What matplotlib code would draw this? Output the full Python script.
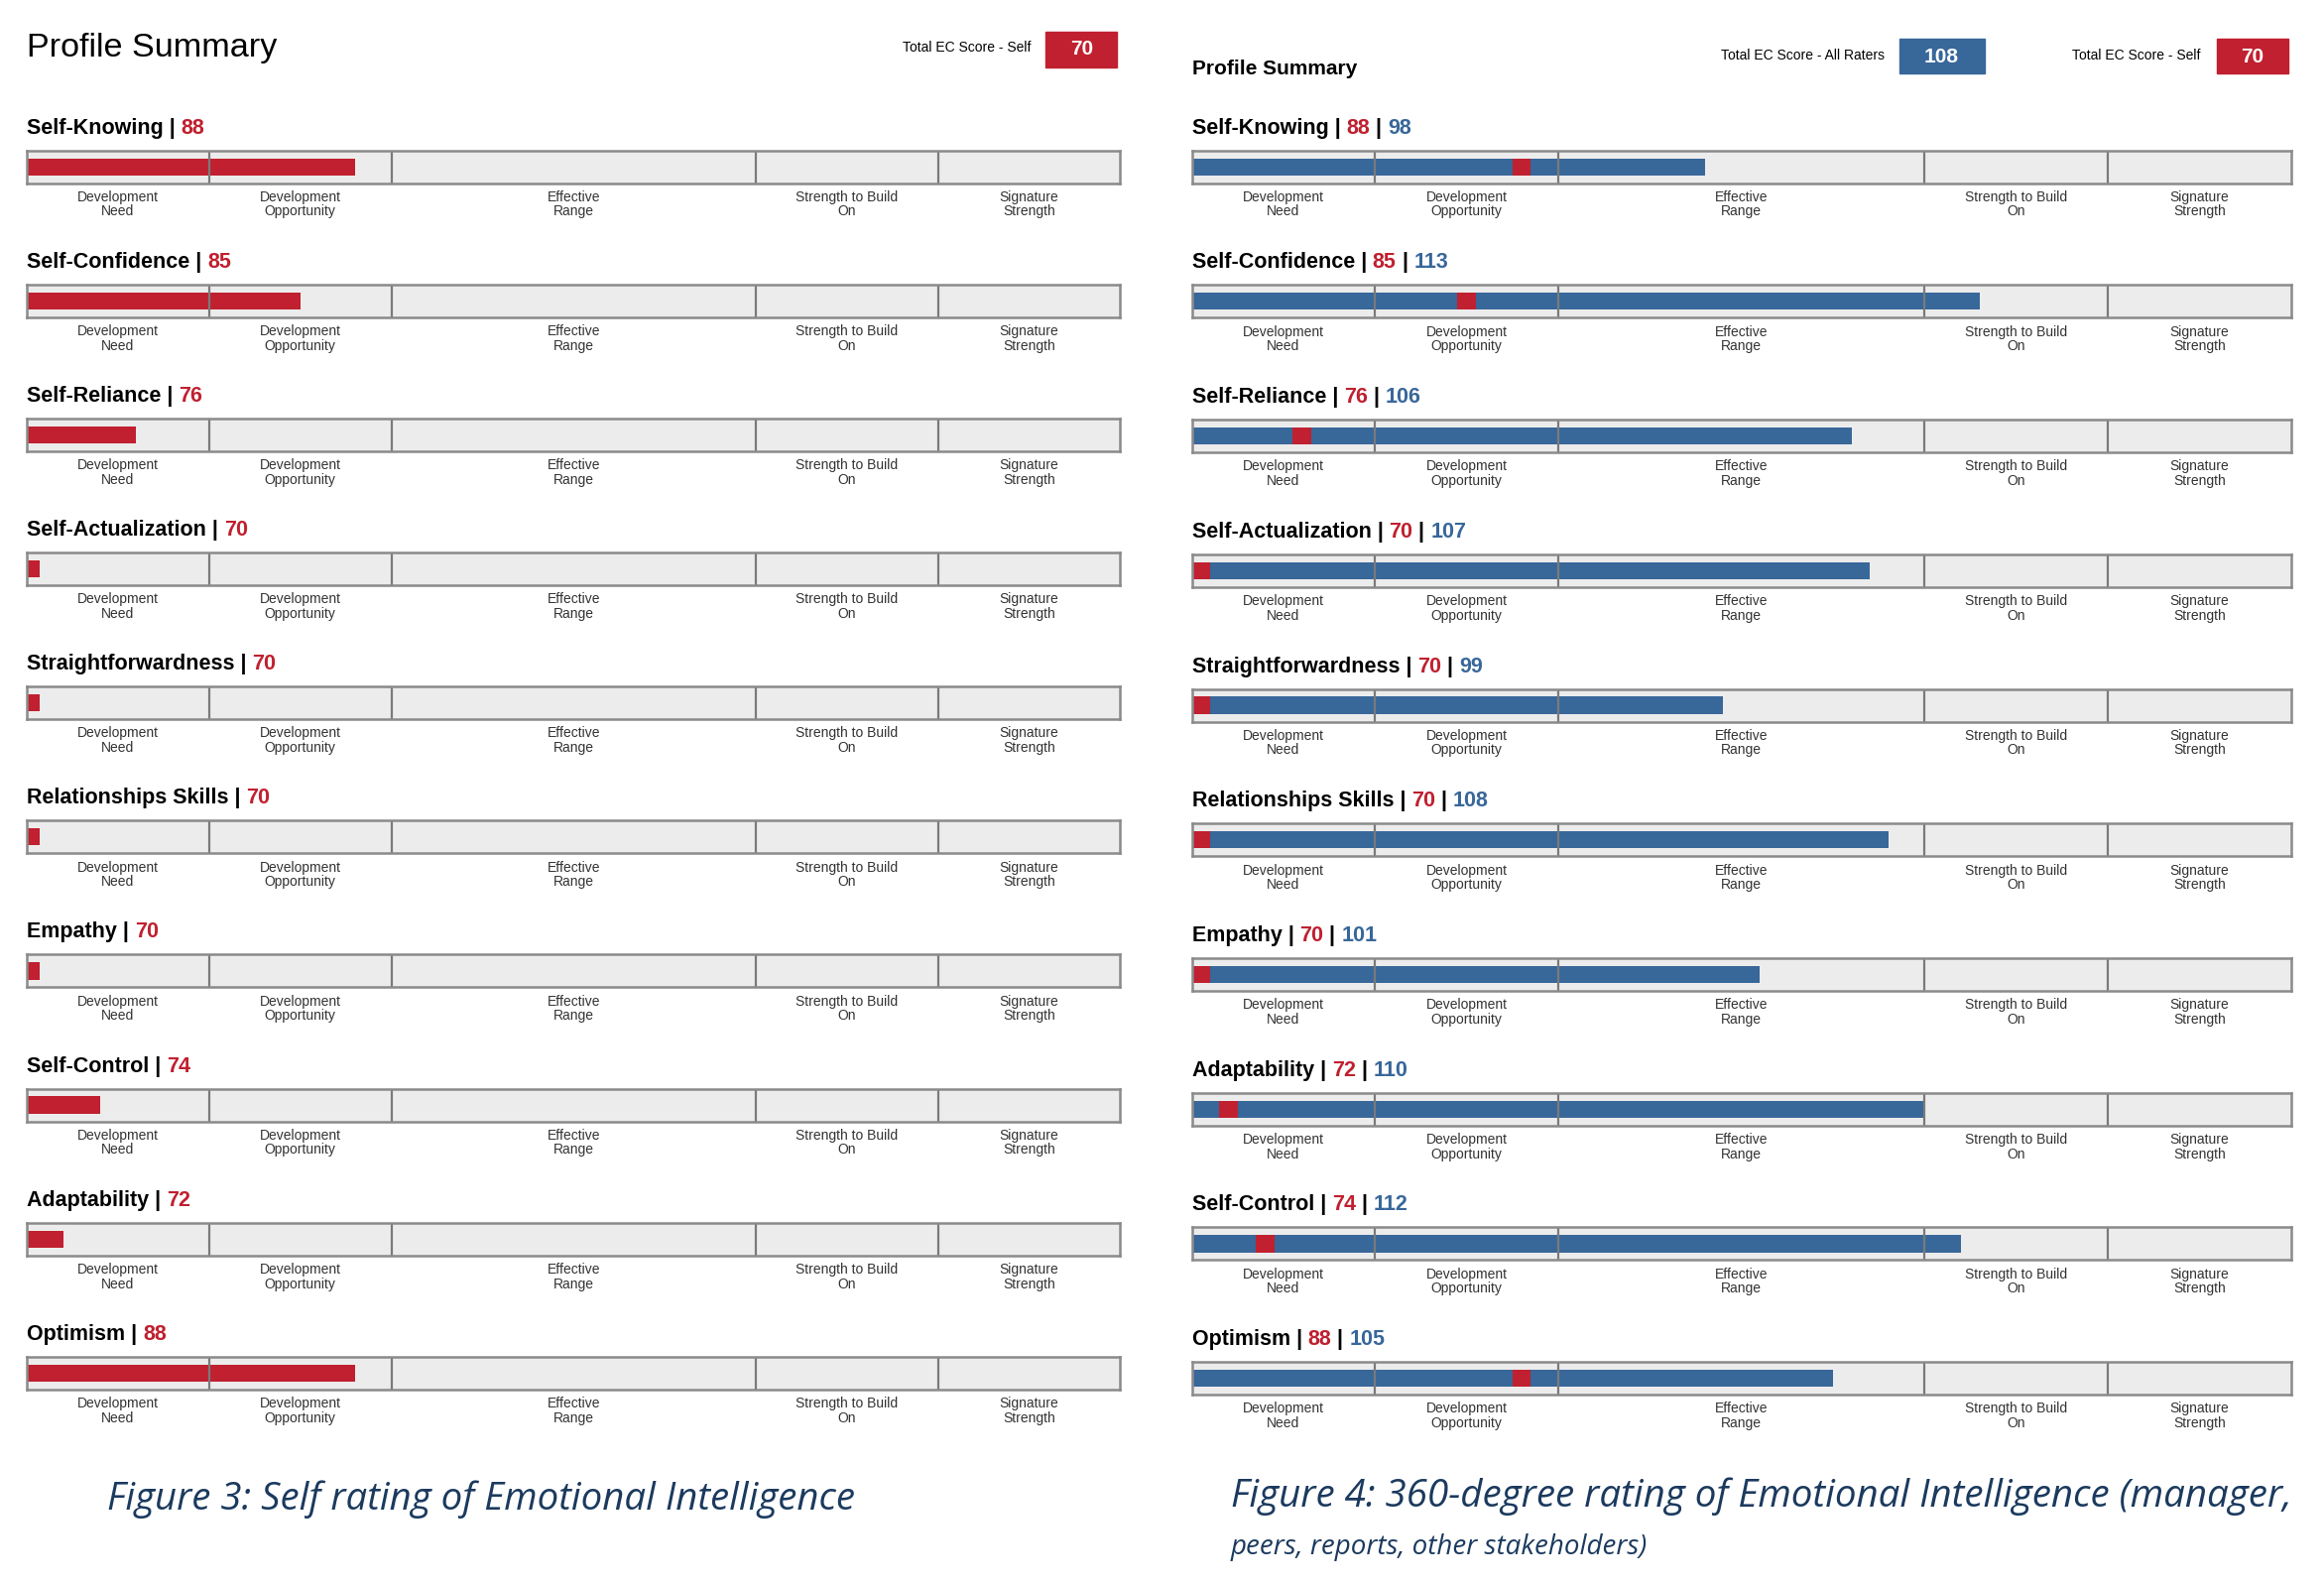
import matplotlib
matplotlib.use("Agg")
import matplotlib.pyplot as plt
from matplotlib.transforms import blended_transform_factory

W, H = 2343, 1599
SX = W / 1560.0
SY = H / 1065.0

RED = "#c0202f"
BLUE = "#38679a"
NAVY = "#1b3a5e"
NARROW = ["Liberation Sans Narrow", "Liberation Sans", "DejaVu Sans"]

# ---- data ----
self_cats = ["Self-Knowing", "Self-Confidence", "Self-Reliance", "Self-Actualization",
             "Straightforwardness", "Relationships Skills", "Empathy", "Self-Control",
             "Adaptability", "Optimism"]
self_vals = [88, 85, 76, 70, 70, 70, 70, 74, 72, 88]

r_cats = ["Self-Knowing", "Self-Confidence", "Self-Reliance", "Self-Actualization",
          "Straightforwardness", "Relationships Skills", "Empathy", "Adaptability",
          "Self-Control", "Optimism"]
r_self = [88, 85, 76, 70, 70, 70, 70, 72, 74, 88]
r_all = [98, 113, 106, 107, 99, 108, 101, 110, 112, 105]

zone_labels = ["Development\nNeed", "Development\nOpportunity", "Effective\nRange",
               "Strength to Build\nOn", "Signature\nStrength"]
zone_edges = [70, 80, 90, 110, 120, 130]
total_self = 70
total_all = 108

fig = plt.figure(figsize=(W / 100, H / 100), dpi=100)
fig.patch.set_facecolor("white")
renderer = fig.canvas.get_renderer()


def fx(x):
    return x * SX / W


def fy(y):
    return 1 - y * SY / H


def fit(t, target_w):
    """scale font so the text is target_w display px wide"""
    bb = t.get_window_extent(renderer=renderer)
    t.set_fontsize(t.get_fontsize() * target_w * SX / bb.width)


def ftext(x, y, s, w=None, **kw):
    kw.setdefault("family", NARROW)
    t = fig.text(fx(x), fy(y), s, **kw)
    if w:
        fit(t, w)
    return t


def title_row(x, y, name, vals, cols, w):
    # multi-colour header "Name | a | b"
    parts = [(name + " | ", "black")]
    for i, (v, c) in enumerate(zip(vals, cols)):
        parts.append((str(v), c))
        if i < len(vals) - 1:
            parts.append((" | ", "black"))
    fs = 15.5
    cx = fx(x)
    for s, c in parts:
        t = fig.text(cx, fy(y), s, color=c, fontsize=fs, fontweight="bold",
                     family=NARROW, va="center", ha="left")
        bb = t.get_window_extent(renderer=renderer)
        cx += bb.width / W


def bar_axes(x0, x1, ytop, ybot):
    ax = fig.add_axes([fx(x0), fy(ybot), fx(x1) - fx(x0), fy(ytop) - fy(ybot)])
    ax.set_xlim(zone_edges[0], zone_edges[-1])
    ax.set_ylim(0, 1)
    ax.set_facecolor("#ececec")
    for s in ax.spines.values():
        s.set_color("#8a8a8a")
        s.set_linewidth(1.8)
    ax.set_xticks([])
    ax.set_yticks([])
    for e in zone_edges[1:-1]:
        ax.axvline(e, color="#7a7a7a", lw=1.6)
    tr = blended_transform_factory(ax.transData, ax.transAxes)
    for i, lab in enumerate(zone_labels):
        cx = (zone_edges[i] + zone_edges[i + 1]) / 2
        ax.text(cx, -0.22, lab, transform=tr, ha="center", va="top",
                fontsize=10, family=NARROW, color="#333333", linespacing=1.05)
    return ax


# ---- left panel ----
ftext(18, 32, "Profile Summary", w=168, fontsize=20, va="center")
ftext(692, 32, "Total EC Score - Self", fontsize=10, va="center", ha="right")
fig.patches.append(plt.Rectangle((fx(702), fy(45)), fx(750) - fx(702), fy(21) - fy(45),
                                 transform=fig.transFigure, color=RED))
ftext(726, 33, str(total_self), fontsize=15, fontweight="bold", color="white",
      ha="center", va="center")

for i, (c, v) in enumerate(zip(self_cats, self_vals)):
    yt = 86 + 90 * i
    title_row(18, yt, c, [v], [RED], None)
    ax = bar_axes(18, 752, yt + 15, yt + 37)
    ax.barh(0.5, max(v, 70.7) - 70, left=70, height=0.52, color=RED)

# ---- right panel ----
ftext(800, 46, "Profile Summary", fontsize=15, fontweight="bold", va="center")
ftext(1265, 37, "Total EC Score - All Raters", fontsize=10, va="center", ha="right")
fig.patches.append(plt.Rectangle((fx(1275), fy(49)), fx(1332) - fx(1275), fy(26) - fy(49),
                                 transform=fig.transFigure, color=BLUE))
ftext(1303, 38, str(total_all), fontsize=15, fontweight="bold", color="white",
      ha="center", va="center")
ftext(1477, 37, "Total EC Score - Self", fontsize=10, va="center", ha="right")
fig.patches.append(plt.Rectangle((fx(1488), fy(49)), fx(1536) - fx(1488), fy(26) - fy(49),
                                 transform=fig.transFigure, color=RED))
ftext(1512, 38, str(total_self), fontsize=15, fontweight="bold", color="white",
      ha="center", va="center")

for i, (c, s, a) in enumerate(zip(r_cats, r_self, r_all)):
    yt = 86 + 90.4 * i
    title_row(800, yt, c, [s, a], [RED, BLUE], None)
    ax = bar_axes(800, 1538, yt + 15, yt + 37)
    ax.barh(0.5, a - 70, left=70, height=0.52, color=BLUE)
    ax.barh(0.5, 1.0, left=max(s - 0.5, 70), height=0.52, color=RED)

# ---- captions ----
ftext(72, 1007, "Figure 3: Self rating of Emotional Intelligence", w=501,
      fontsize=20, style="italic", color=NAVY, va="center",
      family=["Open Sans", "DejaVu Sans"])
ftext(826, 1005, "Figure 4: 360-degree rating of Emotional Intelligence (manager,", w=712,
      fontsize=20, style="italic", color=NAVY, va="center",
      family=["Open Sans", "DejaVu Sans"])
ftext(826, 1039, "peers, reports, other stakeholders)", fontsize=20, style="italic",
      color=NAVY, va="center", family=["Open Sans", "DejaVu Sans"])

fig.savefig("out.png", dpi=100, facecolor="white")
